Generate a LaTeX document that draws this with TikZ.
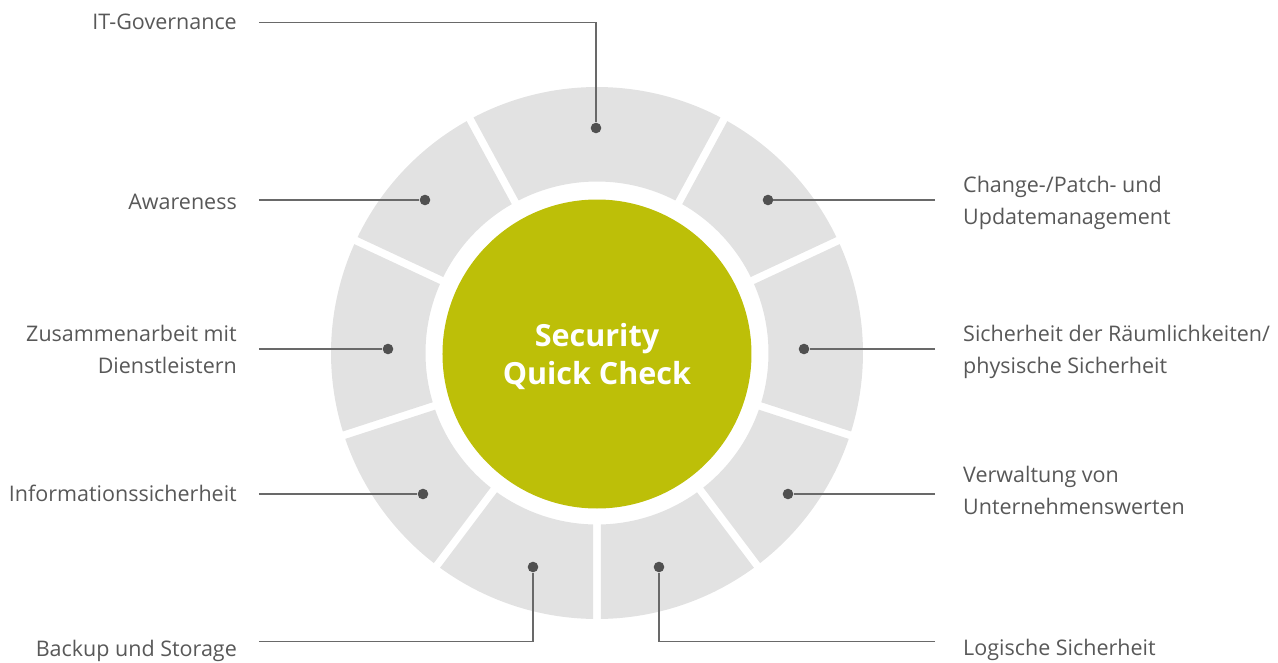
\documentclass[tikz,border=0pt]{standalone}
\usepackage{fontspec}
\setmainfont{Open Sans}
\definecolor{ringgray}{RGB}{226,226,226}
\definecolor{qcgreen}{RGB}{189,191,8}
\definecolor{labelgray}{RGB}{88,88,88}
\definecolor{linegray}{RGB}{105,105,105}
\definecolor{dotgray}{RGB}{80,80,80}
% struts keep every label line centred on its cap height
\newcommand{\labstrut}{\rule[-6.3pt]{0pt}{28pt}}
\newcommand{\hubstrut}{\rule[-6.2pt]{0pt}{35pt}}
\begin{document}
\begin{tikzpicture}[x=1pt,y=1pt,
  lbl/.style={font=\fontsize{21.5}{31.5}\selectfont, text=labelgray, inner sep=0pt},
  lbll/.style={lbl, anchor=east, align=right},
  lblr/.style={lbl, anchor=west, align=left},
  dotnode/.style={circle, fill=dotgray, inner sep=0pt, minimum size=10.6pt},
  conn/.style={draw=linegray, line width=1.5pt},
  segfill/.style={fill=ringgray},
  hub/.style={circle, fill=qcgreen, minimum size=309pt, inner sep=0pt, text=white,
    font=\bfseries\fontsize{30.5}{37.5}\selectfont, align=center}]
\useasboundingbox (-597,-309) rectangle (681,353);

% ring of nine segments separated by parallel gaps
\def\rin{171.5}
\def\rout{266}
\def\gp{3.9}
\foreach \a/\b in {-90/-53, -53/-18, -18/25, 25/61.5, 61.5/118.5,
                   118.5/155, 155/198, 198/233, 233/270}{
  \fill[segfill] ({\a+asin(\gp/\rin)}:\rin) -- ({\a+asin(\gp/\rout)}:\rout)
    arc[start angle={\a+asin(\gp/\rout)}, end angle={\b-asin(\gp/\rout)}, radius=\rout]
    -- ({\b-asin(\gp/\rin)}:\rin)
    arc[start angle={\b-asin(\gp/\rin)}, end angle={\a+asin(\gp/\rin)}, radius=\rin]
    -- cycle;
}

% centre
\node[hub] (core) at (0,-1) {\hubstrut Security\\\hubstrut Quick Check};

% markers on the segments
\node[dotnode] (ditg) at (-1,225) {};
\node[dotnode] (dchg) at (171,153) {};
\node[dotnode] (drae) at (207,4) {};
\node[dotnode] (dver) at (191,-141) {};
\node[dotnode] (dlog) at (62,-214) {};
\node[dotnode] (dbak) at (-64,-214) {};
\node[dotnode] (dinf) at (-174,-141) {};
\node[dotnode] (dzus) at (-209,4) {};
\node[dotnode] (dawa) at (-172,153) {};

% labels
\node[lbll] (itg) at (-360,330.7) {\labstrut IT-Governance};
\node[lbll] (awa) at (-360,151) {\labstrut Awareness};
\node[lbll] (zus) at (-360,3) {\labstrut Zusammenarbeit mit\\\labstrut Dienstleistern};
\node[lbll] (inf) at (-360,-141) {\labstrut Informationssicherheit};
\node[lbll] (bak) at (-360,-296) {\labstrut Backup und Storage};
\node[lblr] (chg) at (366,152) {\labstrut Change-/Patch- und\\\labstrut Updatemanagement};
\node[lblr] (rae) at (366,3) {\labstrut Sicherheit der Räumlichkeiten/\\\labstrut physische Sicherheit};
\node[lblr] (ver) at (366,-138) {\labstrut Verwaltung von\\\labstrut Unternehmenswerten};
\node[lblr] (log) at (366,-295) {\labstrut Logische Sicherheit};

% leader lines
\draw[conn] ([xshift=22pt]itg.east) -| (ditg);
\draw[conn] ([xshift=22pt,yshift=2pt]awa.east) -- (dawa);
\draw[conn] ([xshift=22pt,yshift=1pt]zus.east) -- (dzus);
\draw[conn] ([xshift=22pt]inf.east) -- (dinf);
\draw[conn] ([xshift=22pt,yshift=7.3pt]bak.east) -| (dbak);
\draw[conn] ([xshift=-28pt,yshift=1pt]chg.west) -- (dchg);
\draw[conn] ([xshift=-28pt,yshift=1pt]rae.west) -- (drae);
\draw[conn] ([xshift=-28pt,yshift=-3pt]ver.west) -- (dver);
\draw[conn] ([xshift=-28pt,yshift=6.3pt]log.west) -| (dlog);
\end{tikzpicture}
\end{document}
